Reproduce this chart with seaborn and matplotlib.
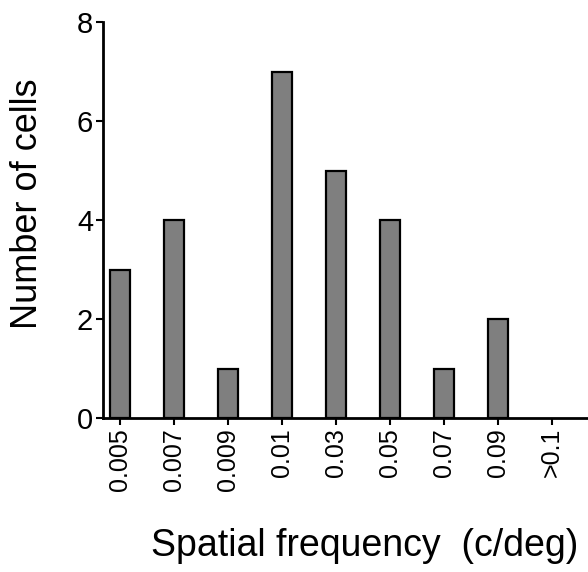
import matplotlib
matplotlib.use("Agg")
import matplotlib.pyplot as plt
import seaborn as sns
import pandas as pd

# Spatial frequency bins and cell counts
categories = ["0.005", "0.007", "0.009", "0.01", "0.03", "0.05", "0.07", "0.09", ">0.1"]
counts = [3, 4, 1, 7, 5, 4, 1, 2, 0]
y_ticks = [0, 2, 4, 6, 8]

df = pd.DataFrame({"freq": categories, "cells": counts})

sns.set_style("ticks")
plt.rcParams["font.family"] = ["Liberation Sans", "DejaVu Sans"]
plt.rcParams["text.color"] = "black"
plt.rcParams["axes.labelcolor"] = "black"
plt.rcParams["xtick.color"] = "black"
plt.rcParams["ytick.color"] = "black"

fig = plt.figure(figsize=(5.88, 5.72), dpi=100)
ax = fig.add_axes([0.175, 0.269, 0.825, 0.6925])

sns.barplot(data=df, x="freq", y="cells", order=categories, color="#7f7f7f",
            saturation=1, width=0.37, edgecolor="black", linewidth=1.6, ax=ax)

# empty bins get no outline
for patch, n in zip(ax.patches, counts):
    if n == 0:
        patch.set_linewidth(0)

ax.set_ylim(0, 8)
ax.set_xlim(-0.31, 8.67)
ax.set_yticks(y_ticks)
ax.set_yticklabels([str(v) for v in y_ticks], fontsize=21)
ax.set_xticks(range(len(categories)))
ax.set_xticklabels(categories, rotation=90, fontsize=18)
ax.tick_params(axis="both", direction="out", length=5, width=1.5, color="black", pad=2)

for side in ["top", "right"]:
    ax.spines[side].set_visible(False)
for side in ["left", "bottom"]:
    ax.spines[side].set_linewidth(2)
    ax.spines[side].set_color("black")

ax.set_ylabel("Number of cells", fontsize=26)
ax.yaxis.set_label_coords(-0.12, 0.54)
ax.set_xlabel("Spatial frequency  (c/deg)", fontsize=27)
ax.xaxis.set_label_coords(0.54, -0.278)

fig.savefig("out.png", dpi=100)
